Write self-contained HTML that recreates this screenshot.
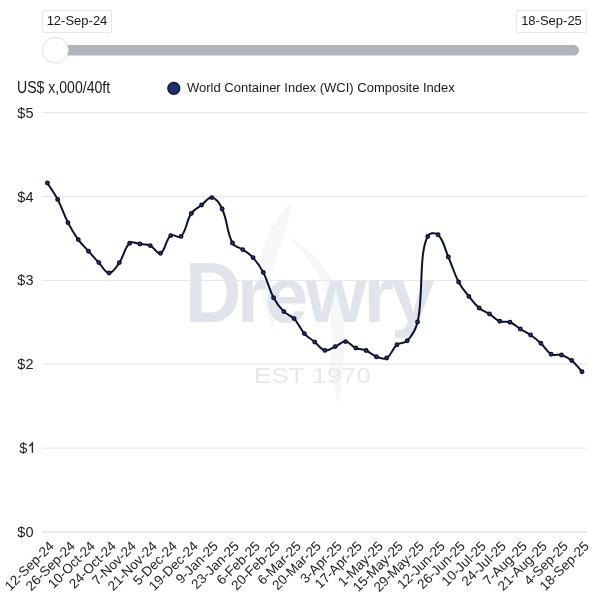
<!DOCTYPE html>
<html><head><meta charset="utf-8"><style>
*{margin:0;padding:0;box-sizing:border-box}
html,body{width:600px;height:601px;background:#fff;overflow:hidden}
body{position:relative;font-family:"Liberation Sans",sans-serif;color:#222}
.tag{position:absolute;top:10px;height:23px;border:1px solid #e8e8e8;border-radius:2px;background:#fff;font-size:13px;line-height:20px;text-align:center;color:#1a1a1a}
.yl{position:absolute;left:0;width:33.5px;text-align:right;font-size:14.5px;line-height:16px;color:#222}
.xl{position:absolute;width:200px;text-align:right;font-size:13.5px;line-height:16px;color:#222;transform-origin:100% 50%;transform:rotate(-45deg);white-space:nowrap}
svg{position:absolute;left:0;top:0}
</style></head><body style="will-change:transform">
<svg width="600" height="601" viewBox="0 0 600 601">
<path d="M292,201 C272,222 258,248 259,278 C260,300 268,318 276,334 C270,305 268,282 276,258 C282,240 290,222 292,201 Z" fill="#f6f7f9"/>
<path d="M285,232 C300,250 318,268 326,292 C334,318 332,345 330,360 C333,378 336,392 338,406 C342,380 346,350 344,320 C341,290 325,262 300,244 C294,240 289,236 285,232 Z" fill="#f6f7f9"/>
<g font-family="Liberation Sans" font-weight="bold" font-size="85" fill="#e1e4eb"><text transform="translate(189.8,321.7) scale(0.92,1)" x="-5.31" y="0">D</text><text transform="translate(237,321.7) scale(0.92,0.91)" x="0" y="0" letter-spacing="-3">rewry</text></g>
<text x="0" y="0" transform="translate(254,383.2) scale(1.15,1)" font-family="Liberation Sans" font-size="22.3" fill="#e8e8ea" letter-spacing="0.4">EST 1970</text>
<g stroke="#e6e6e6" stroke-width="1"><line x1="42" y1="112.6" x2="587.5" y2="112.6"/><line x1="42" y1="196.5" x2="587.5" y2="196.5"/><line x1="42" y1="280.4" x2="587.5" y2="280.4"/><line x1="42" y1="364.2" x2="587.5" y2="364.2"/><line x1="42" y1="448.1" x2="587.5" y2="448.1"/><line x1="42" y1="532.0" x2="587.5" y2="532.0" stroke="#d6d6d6"/></g>
<rect x="55" y="45" width="524" height="10.4" rx="5.2" fill="#afb4ba"/>
<circle cx="55.4" cy="50.2" r="12.9" fill="#fff" stroke="#e0e0e0" stroke-width="1"/>
<path d="M29.3 446.2 L32.4 443.2 L32.4 452.8" fill="none" stroke="#222" stroke-width="1.35" stroke-linejoin="miter"/>
<circle cx="173.8" cy="88.3" r="6" fill="#1f2e6c" stroke="#0b1140" stroke-width="1.2"/>
<path d="M47.40 183.00 C51.51 189.56 54.12 192.55 57.68 199.40 C62.35 208.39 63.35 213.58 67.96 222.60 C71.57 229.66 73.62 233.17 78.24 239.60 C81.85 244.61 84.39 246.58 88.52 251.20 C92.62 255.78 94.59 258.13 98.80 262.60 C102.82 266.85 104.97 273.00 109.08 273.00 C113.20 273.00 116.08 267.37 119.37 262.60 C124.30 255.45 124.05 248.26 129.65 243.20 C132.27 240.82 135.83 243.52 139.93 244.00 C144.06 244.48 146.52 243.95 150.21 245.60 C154.74 247.63 157.32 254.74 160.49 253.20 C165.54 250.74 165.31 240.06 170.77 235.60 C173.53 233.34 178.66 238.98 181.05 236.40 C186.89 230.10 185.94 221.63 191.33 213.40 C194.17 209.07 197.40 208.23 201.61 205.00 C205.63 201.91 208.17 196.88 211.89 197.60 C216.40 198.48 219.69 203.52 222.17 209.00 C227.92 221.68 226.33 230.92 232.45 243.00 C234.56 247.16 238.75 246.77 242.73 249.60 C246.98 252.61 249.56 253.77 253.02 257.60 C257.79 262.89 260.03 266.02 263.30 272.40 C268.25 282.06 268.54 288.10 273.58 297.70 C276.77 303.78 279.07 306.74 283.86 311.60 C287.30 315.10 290.80 315.03 294.14 318.60 C299.02 323.83 299.67 328.19 304.42 333.60 C307.89 337.55 310.59 338.64 314.70 342.00 C318.81 345.36 320.48 349.39 324.98 350.40 C328.70 351.23 331.24 348.32 335.26 346.60 C339.46 344.80 341.55 341.33 345.54 341.60 C349.77 341.89 351.43 346.10 355.82 348.00 C359.66 349.66 362.25 348.87 366.10 350.50 C370.48 352.35 371.97 355.09 376.38 356.70 C380.19 358.09 383.53 359.83 386.67 358.00 C391.75 355.03 391.97 348.86 396.95 344.70 C400.20 341.98 404.44 343.88 407.23 340.80 C412.66 334.80 415.87 330.31 417.51 322.00 C423.50 300.00 418.50 252.00 427.79 236.40 C428.67 232.64 435.62 232.34 438.07 234.80 C443.84 240.58 444.44 248.03 448.35 257.00 C452.67 266.91 453.66 272.47 458.63 282.00 C461.88 288.23 464.53 290.86 468.91 296.40 C472.75 301.26 474.54 304.02 479.19 308.00 C482.76 311.06 485.47 311.43 489.47 314.00 C493.69 316.71 495.24 319.40 499.75 321.20 C503.47 322.68 506.28 320.78 510.03 322.20 C514.51 323.90 516.13 326.40 520.32 329.00 C524.36 331.52 526.70 332.29 530.60 335.00 C534.92 338.01 537.02 339.70 540.88 343.30 C545.25 347.38 546.29 351.43 551.16 354.20 C554.51 356.11 557.58 353.82 561.44 355.00 C565.80 356.34 568.15 357.60 571.72 360.50 C576.37 364.28 577.89 367.22 582.00 371.70" fill="none" stroke="#0b1035" stroke-width="2" stroke-linejoin="round"/>
<g fill="#2f3668" stroke="#0b1035" stroke-width="1.3"><circle cx="47.40" cy="183.00" r="1.8"/><circle cx="57.68" cy="199.40" r="1.8"/><circle cx="67.96" cy="222.60" r="1.8"/><circle cx="78.24" cy="239.60" r="1.8"/><circle cx="88.52" cy="251.20" r="1.8"/><circle cx="98.80" cy="262.60" r="1.8"/><circle cx="109.08" cy="273.00" r="1.8"/><circle cx="119.37" cy="262.60" r="1.8"/><circle cx="129.65" cy="243.20" r="1.8"/><circle cx="139.93" cy="244.00" r="1.8"/><circle cx="150.21" cy="245.60" r="1.8"/><circle cx="160.49" cy="253.20" r="1.8"/><circle cx="170.77" cy="235.60" r="1.8"/><circle cx="181.05" cy="236.40" r="1.8"/><circle cx="191.33" cy="213.40" r="1.8"/><circle cx="201.61" cy="205.00" r="1.8"/><circle cx="211.89" cy="197.60" r="1.8"/><circle cx="222.17" cy="209.00" r="1.8"/><circle cx="232.45" cy="243.00" r="1.8"/><circle cx="242.73" cy="249.60" r="1.8"/><circle cx="253.02" cy="257.60" r="1.8"/><circle cx="263.30" cy="272.40" r="1.8"/><circle cx="273.58" cy="297.70" r="1.8"/><circle cx="283.86" cy="311.60" r="1.8"/><circle cx="294.14" cy="318.60" r="1.8"/><circle cx="304.42" cy="333.60" r="1.8"/><circle cx="314.70" cy="342.00" r="1.8"/><circle cx="324.98" cy="350.40" r="1.8"/><circle cx="335.26" cy="346.60" r="1.8"/><circle cx="345.54" cy="341.60" r="1.8"/><circle cx="355.82" cy="348.00" r="1.8"/><circle cx="366.10" cy="350.50" r="1.8"/><circle cx="376.38" cy="356.70" r="1.8"/><circle cx="386.67" cy="358.00" r="1.8"/><circle cx="396.95" cy="344.70" r="1.8"/><circle cx="407.23" cy="340.80" r="1.8"/><circle cx="417.51" cy="322.00" r="1.8"/><circle cx="427.79" cy="236.40" r="1.8"/><circle cx="438.07" cy="234.80" r="1.8"/><circle cx="448.35" cy="257.00" r="1.8"/><circle cx="458.63" cy="282.00" r="1.8"/><circle cx="468.91" cy="296.40" r="1.8"/><circle cx="479.19" cy="308.00" r="1.8"/><circle cx="489.47" cy="314.00" r="1.8"/><circle cx="499.75" cy="321.20" r="1.8"/><circle cx="510.03" cy="322.20" r="1.8"/><circle cx="520.32" cy="329.00" r="1.8"/><circle cx="530.60" cy="335.00" r="1.8"/><circle cx="540.88" cy="343.30" r="1.8"/><circle cx="551.16" cy="354.20" r="1.8"/><circle cx="561.44" cy="355.00" r="1.8"/><circle cx="571.72" cy="360.50" r="1.8"/><circle cx="582.00" cy="371.70" r="1.8"/></g>
</svg>
<div class="tag" style="left:42px;width:70px">12-Sep-24</div>
<div class="tag" style="left:516px;width:71px">18-Sep-25</div>
<div style="position:absolute;left:17px;top:79.8px;font-size:16px;line-height:16px;color:#1a1a1a;transform:scaleX(0.88);transform-origin:0 0;white-space:nowrap">US$ x,000/40ft</div>
<div style="position:absolute;left:187px;top:80px;font-size:13px;line-height:16px;color:#1a1a1a">World Container Index (WCI) Composite Index</div>
<div class="yl" style="top:104.6px">$5</div><div class="yl" style="top:188.5px">$4</div><div class="yl" style="top:272.4px">$3</div><div class="yl" style="top:356.2px">$2</div><div class="yl" style="top:440.1px"><span style="display:inline-block;margin-right:6.2px">$</span></div><div class="yl" style="top:524.0px">$0</div>
<div class="xl" style="left:-148.1px;top:536.0px">12-Sep-24</div><div class="xl" style="left:-127.5px;top:536.0px">26-Sep-24</div><div class="xl" style="left:-107.0px;top:536.0px">10-Oct-24</div><div class="xl" style="left:-86.4px;top:536.0px">24-Oct-24</div><div class="xl" style="left:-65.9px;top:536.0px">7-Nov-24</div><div class="xl" style="left:-45.3px;top:536.0px">21-Nov-24</div><div class="xl" style="left:-24.7px;top:536.0px">5-Dec-24</div><div class="xl" style="left:-4.2px;top:536.0px">19-Dec-24</div><div class="xl" style="left:16.4px;top:536.0px">9-Jan-25</div><div class="xl" style="left:37.0px;top:536.0px">23-Jan-25</div><div class="xl" style="left:57.5px;top:536.0px">6-Feb-25</div><div class="xl" style="left:78.1px;top:536.0px">20-Feb-25</div><div class="xl" style="left:98.6px;top:536.0px">6-Mar-25</div><div class="xl" style="left:119.2px;top:536.0px">20-Mar-25</div><div class="xl" style="left:139.8px;top:536.0px">3-Apr-25</div><div class="xl" style="left:160.3px;top:536.0px">17-Apr-25</div><div class="xl" style="left:180.9px;top:536.0px">1-May-25</div><div class="xl" style="left:201.4px;top:536.0px">15-May-25</div><div class="xl" style="left:222.0px;top:536.0px">29-May-25</div><div class="xl" style="left:242.6px;top:536.0px">12-Jun-25</div><div class="xl" style="left:263.1px;top:536.0px">26-Jun-25</div><div class="xl" style="left:283.7px;top:536.0px">10-Jul-25</div><div class="xl" style="left:304.3px;top:536.0px">24-Jul-25</div><div class="xl" style="left:324.8px;top:536.0px">7-Aug-25</div><div class="xl" style="left:345.4px;top:536.0px">21-Aug-25</div><div class="xl" style="left:365.9px;top:536.0px">4-Sep-25</div><div class="xl" style="left:386.5px;top:536.0px">18-Sep-25</div>
</body></html>
